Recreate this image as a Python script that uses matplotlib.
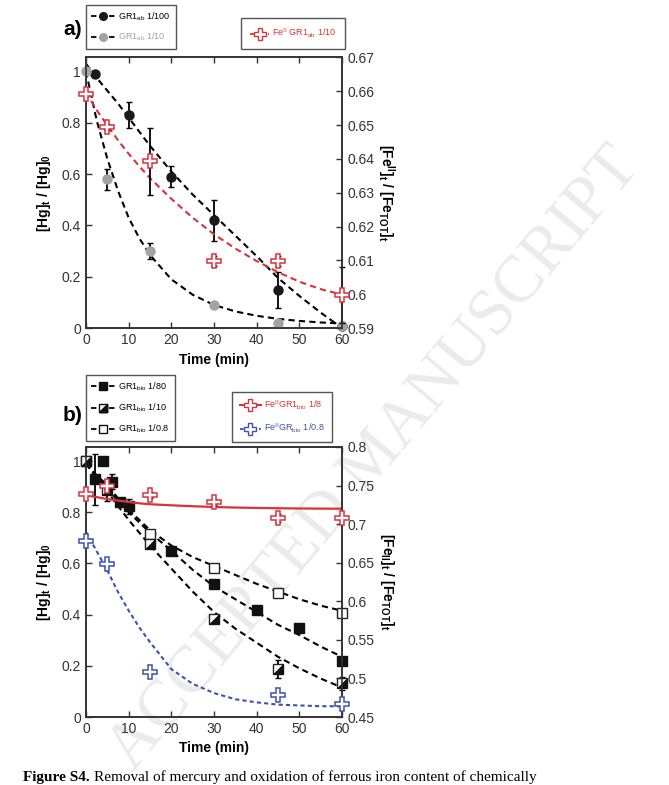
import numpy as np
import matplotlib.pyplot as plt
from matplotlib.lines import Line2D
from matplotlib.legend_handler import HandlerTuple

plt.rcParams['font.family'] = ['Liberation Sans', 'DejaVu Sans']
plt.rcParams['mathtext.fontset'] = 'custom'
plt.rcParams['mathtext.rm'] = 'Liberation Sans'
plt.rcParams['mathtext.it'] = 'Liberation Sans'
plt.rcParams['mathtext.bf'] = 'Liberation Sans:bold'

# ---------------- panel a data ----------------
t_ab100 = [2, 10, 20, 30, 45, 60]
hg_ab100 = [0.99, 0.83, 0.59, 0.42, 0.15, 0.01]
err_ab100 = [0, 0.05, 0.04, 0.08, 0.07, 0]

t_ab10 = [0, 5, 15, 30, 45, 60]
hg_ab10 = [1.0, 0.58, 0.30, 0.09, 0.02, 0.01]
err_ab10 = [0, 0.04, 0.03, 0, 0, 0]

t_fe_ab = [0, 5, 15, 30, 45, 60]
fe_ab = [0.6592, 0.6494, 0.6393, 0.6098, 0.6098, 0.5998]
err_fe_ab = [0, 0.001, 0.0099, 0.0015, 0.0015, 0.0082]

# fitted curves
fit_t = [0, 2.5, 5, 7.5, 10, 12.5, 15, 20, 25, 30, 35, 40, 45, 50, 55, 60]
fit_ab100 = [1.03, 0.975, 0.925, 0.875, 0.82, 0.765, 0.71, 0.61, 0.52, 0.44,
             0.36, 0.28, 0.195, 0.125, 0.06, 0.0]
fit_ab10 = [1.0, 0.81, 0.66, 0.535, 0.43, 0.35, 0.285, 0.19, 0.13, 0.09,
            0.065, 0.048, 0.036, 0.028, 0.022, 0.018]
fit_fe_ab = [0.6598, 0.6544, 0.6499, 0.6455, 0.6415, 0.6378, 0.6343, 0.6282,
             0.6226, 0.6177, 0.6135, 0.6098, 0.6065, 0.6037, 0.6015, 0.5999]

# ---------------- panel b data ----------------
t_80 = [2, 4, 6, 8, 10, 20, 30, 40, 50, 60]
hg_80 = [0.928, 1.0, 0.92, 0.84, 0.823, 0.648, 0.518, 0.417, 0.348, 0.217]
err_80 = [0.1, 0, 0.03, 0, 0.03, 0, 0, 0, 0, 0]

t_10 = [0, 5, 15, 30, 45, 60]
hg_10 = [1.0, 0.885, 0.677, 0.382, 0.189, 0.132]
err_10 = [0, 0.04, 0, 0, 0.035, 0.025]

t_08 = [0, 15, 30, 45, 60]
hg_08 = [1.0, 0.714, 0.583, 0.486, 0.406]

fit_08 = [0.99, 0.945, 0.905, 0.855, 0.81, 0.77, 0.73, 0.67, 0.625, 0.59,
          0.555, 0.52, 0.49, 0.46, 0.435, 0.415]
fit_80 = [0.99, 0.94, 0.89, 0.845, 0.80, 0.76, 0.72, 0.65, 0.575, 0.51,
          0.46, 0.41, 0.36, 0.32, 0.275, 0.235]
fit_10 = [0.99, 0.935, 0.88, 0.825, 0.77, 0.72, 0.67, 0.58, 0.49, 0.41,
          0.345, 0.29, 0.235, 0.19, 0.15, 0.115]

t_fe_8 = [0, 5, 15, 30, 45, 60]
fe_8 = [0.7387, 0.749, 0.738, 0.7287, 0.708, 0.708]
err_fe_8 = [0, 0.004, 0.004, 0.004, 0.005, 0]
fit_fe_8 = [0.7375, 0.735, 0.7325, 0.7305, 0.7287, 0.727, 0.7258, 0.7244,
            0.7232, 0.7222, 0.7215, 0.721, 0.7206, 0.7203, 0.7201, 0.72]

t_fe_08 = [0, 5, 15, 45, 60]
fe_08 = [0.6777, 0.6488, 0.5083, 0.478, 0.4673]
fit_fe_08 = [0.69, 0.665, 0.640, 0.612, 0.588, 0.566, 0.547, 0.512, 0.493,
             0.481, 0.473, 0.469, 0.466, 0.465, 0.464, 0.464]

RED = '#d8333a'
BLUE = '#3f51b0'
GREY = '#a3a3a3'
DARK = '#333333'
DASH = (3, 2)
TRI = [(-1, -1), (1, -1), (1, 1), (-1, -1)]  # lower-right half of a square
MS_C = 6.5   # circles
MS_S = 7     # squares
MS_P = 9.5   # crosses
LEG = dict(fontsize=6.5, fancybox=False, edgecolor='#555555', framealpha=1,
           borderaxespad=0)


def style_axes(ax, ax2, rticks):
    ax.set_xlim(0, 60)
    ax.set_ylim(0, 1.055)
    ax.set_xticks(range(0, 61, 10))
    ax.set_yticks([0, 0.2, 0.4, 0.6, 0.8, 1])
    ax.set_yticklabels(['0', '0.2', '0.4', '0.6', '0.8', '1'])
    ax.tick_params(direction='in', top=True, length=4, width=1,
                   labelsize=10, colors=DARK, labelcolor=DARK)
    ax2.set_ylim(rticks[0], rticks[-1])
    ax2.set_yticks(rticks)
    ax2.tick_params(direction='in', length=4, width=1, labelsize=10,
                    colors=DARK, labelcolor=DARK)
    for a in (ax, ax2):
        a.patch.set_visible(False)
        for s in a.spines.values():
            s.set_color(DARK)
            s.set_linewidth(1.2)
    ax.set_xlabel('Time (min)', fontsize=10, fontweight='bold', labelpad=4)
    ax.set_ylabel(r'[Hg]$_\mathbf{t}$ / [Hg]$_\mathbf{0}$', fontsize=10,
                  fontweight='bold', labelpad=6)


fig = plt.figure(figsize=(6.69, 7.85), dpi=100)

# watermark behind everything
fig.text(0.56, 0.415, 'ACCEPTED MANUSCRIPT', rotation=50, fontsize=48,
         family='Liberation Serif', color='#ebebeb', ha='center', va='center',
         zorder=-5)

# ================= panel a =================
ax = fig.add_axes([0.1285, 0.582, 0.383, 0.345])
ax2 = ax.twinx()

ax.plot(fit_t, fit_ab100, color='k', ls='--', dashes=DASH, lw=1.5)
ax.plot(fit_t, fit_ab10, color='k', ls='--', dashes=DASH, lw=1.5)
ax.errorbar(t_ab100, hg_ab100, yerr=err_ab100, fmt='none', ecolor='k',
            elinewidth=1.3, capsize=2.5, clip_on=False)
ax.errorbar(t_ab10, hg_ab10, yerr=err_ab10, fmt='none', ecolor='k',
            elinewidth=1.3, capsize=2.5, clip_on=False)
ax.plot(t_ab100, hg_ab100, 'o', color='#1a1a1a', ms=MS_C, clip_on=False, zorder=4)
ax.plot(t_ab10, hg_ab10, 'o', color=GREY, ms=MS_C, clip_on=False, zorder=4)

ax2.plot(fit_t, fit_fe_ab, color=RED, ls='--', dashes=DASH, lw=1.5)
ax2.errorbar(t_fe_ab, fe_ab, yerr=err_fe_ab, fmt='none', ecolor='k',
             elinewidth=1.3, capsize=2.5, clip_on=False)
ax2.plot(t_fe_ab, fe_ab, 'P', mfc='white', mec=RED, mew=1.1, ms=MS_P,
         clip_on=False, zorder=4)

style_axes(ax, ax2, [0.59, 0.60, 0.61, 0.62, 0.63, 0.64, 0.65, 0.66, 0.67])
ax2.set_yticklabels(['0.59', '0.6', '0.61', '0.62', '0.63', '0.64', '0.65',
                     '0.66', '0.67'])
ax2.set_ylabel(r'[Fe$^\mathbf{II}$]$_\mathbf{t}$ / [Fe$_\mathbf{TOT}$]$_\mathbf{t}$',
               fontsize=10, fontweight='bold', rotation=270, labelpad=16)

h1 = Line2D([], [], color='k', ls='--', dashes=DASH, lw=1.3, marker='o',
            mfc='#1a1a1a', mec='#1a1a1a', ms=5.5)
h2 = Line2D([], [], color='k', ls='--', dashes=DASH, lw=1.3, marker='o',
            mfc=GREY, mec=GREY, ms=5.5)
leg = fig.legend([h1, h2], [r'GR1$_{\mathregular{ab}}$ 1/100',
                            r'GR1$_{\mathregular{ab}}$ 1/10'],
                 loc='upper left', bbox_to_anchor=(0.1285, 0.994),
                 handlelength=2.6, borderpad=0.6, labelspacing=0.9,
                 handletextpad=0.4, **LEG)
leg.get_texts()[1].set_color(GREY)

h3 = Line2D([], [], color=RED, ls='--', dashes=DASH, lw=1.3, marker='P',
            mfc='white', mec=RED, ms=8)
leg = fig.legend([h3], [r'Fe$^{\mathregular{II}}$ GR1$_{\mathregular{ab}}$ 1/10'],
                 loc='upper right', bbox_to_anchor=(0.516, 0.977),
                 handlelength=2.1, borderpad=1.0, handletextpad=0.3, **LEG)
leg.get_texts()[0].set_color(RED)

fig.text(0.108, 0.962, 'a)', fontsize=15, fontweight='bold', ha='center',
         va='center')

# ================= panel b =================
bx = fig.add_axes([0.1285, 0.0866, 0.383, 0.344])
bx2 = bx.twinx()

bx.plot(fit_t, fit_08, color='k', ls='--', dashes=DASH, lw=1.5)
bx.plot(fit_t, fit_80, color='k', ls='--', dashes=DASH, lw=1.5)
bx.plot(fit_t, fit_10, color='k', ls='--', dashes=DASH, lw=1.5)
bx.errorbar(t_80, hg_80, yerr=err_80, fmt='none', ecolor='k',
            elinewidth=1.3, capsize=2.5, clip_on=False)
bx.errorbar(t_10, hg_10, yerr=err_10, fmt='none', ecolor='k',
            elinewidth=1.3, capsize=2.5, clip_on=False)
bx.plot(t_08, hg_08, 's', mfc='white', mec='#222222', mew=1, ms=MS_S,
        clip_on=False, zorder=4)
bx.plot(t_10, hg_10, 's', mfc='white', mec='#222222', mew=1, ms=MS_S,
        clip_on=False, zorder=4)
bx.plot(t_10, hg_10, marker=TRI, ls='none', mfc='#111111', mec='#111111',
        mew=0.5, ms=MS_S, clip_on=False, zorder=4)
bx.plot(t_80, hg_80, 's', color='#111111', ms=MS_S, clip_on=False, zorder=4)

bx2.plot(fit_t, fit_fe_8, color=RED, lw=1.6)
bx2.plot(fit_t, fit_fe_08, color=BLUE, ls='--', dashes=(2, 1.5), lw=1.5)
bx2.errorbar(t_fe_8, fe_8, yerr=err_fe_8, fmt='none', ecolor='k',
             elinewidth=1.3, capsize=2.5, clip_on=False)
bx2.plot(t_fe_8, fe_8, 'P', mfc='white', mec=RED, mew=1.1, ms=MS_P,
         clip_on=False, zorder=4)
bx2.plot(t_fe_08, fe_08, 'P', mfc='white', mec=BLUE, mew=1.1, ms=MS_P,
         clip_on=False, zorder=4)

style_axes(bx, bx2, [0.45, 0.5, 0.55, 0.6, 0.65, 0.7, 0.75, 0.8])
bx2.set_yticklabels(['0.45', '0.5', '0.55', '0.6', '0.65', '0.7', '0.75', '0.8'])
bx2.set_ylabel(r'[Fe$_\mathbf{II}$]$_\mathbf{t}$ / [Fe$_\mathbf{TOT}$]$_\mathbf{t}$',
               fontsize=10, fontweight='bold', rotation=270, labelpad=16)

g1 = Line2D([], [], color='k', ls='--', dashes=DASH, lw=1.3, marker='s',
            mfc='#111111', mec='#111111', ms=6)
g2a = Line2D([], [], color='k', ls='--', dashes=DASH, lw=1.3, marker='s',
             mfc='white', mec='#111111', ms=6)
g2b = Line2D([], [], ls='none', marker=TRI, mfc='#111111', mec='#111111', ms=6)
g3 = Line2D([], [], color='k', ls='--', dashes=DASH, lw=1.3, marker='s',
            mfc='white', mec='#111111', ms=6)
fig.legend([g1, (g2a, g2b), g3],
           [r'GR1$_{\mathregular{bio}}$ 1/80', r'GR1$_{\mathregular{bio}}$ 1/10',
            r'GR1$_{\mathregular{bio}}$ 1/0.8'],
           handler_map={tuple: HandlerTuple(ndivide=1)},
           loc='upper left', bbox_to_anchor=(0.1285, 0.522),
           handlelength=2.6, borderpad=0.6, labelspacing=0.95,
           handletextpad=0.4, **LEG)

g4 = Line2D([], [], color=RED, lw=1.5, marker='P', mfc='white', mec=RED, ms=8)
g5 = Line2D([], [], color=BLUE, ls='--', dashes=(2, 1.5), lw=1.3, marker='P',
            mfc='white', mec=BLUE, ms=8)
leg = fig.legend([g4, g5],
                 [r'Fe$^{\mathregular{II}}$GR1$_{\mathregular{bio}}$ 1/8',
                  r'Fe$^{\mathregular{II}}$GR$_{\mathregular{bio}}$ 1/0.8'],
                 loc='upper right', bbox_to_anchor=(0.496, 0.501),
                 handlelength=2.4, borderpad=0.8, labelspacing=1.1,
                 handletextpad=0.3, **LEG)
leg.get_texts()[0].set_color(RED)
leg.get_texts()[1].set_color(BLUE)

fig.text(0.108, 0.471, 'b)', fontsize=15, fontweight='bold', ha='center',
         va='center')

# caption line at the very bottom of the page (bold lead-in, serif body)
cap_bold = fig.text(0.035, 0.001, 'Figure S4.', fontsize=11, fontweight='bold',
                    family='Liberation Serif', ha='left', va='bottom')
fig.canvas.draw()
bb = cap_bold.get_window_extent().transformed(fig.transFigure.inverted())
fig.text(bb.x1 + 0.006, 0.001,
         'Removal of mercury and oxidation of ferrous iron content of chemically',
         fontsize=11, family='Liberation Serif', ha='left', va='bottom')

fig.savefig('out.png', dpi=100)
